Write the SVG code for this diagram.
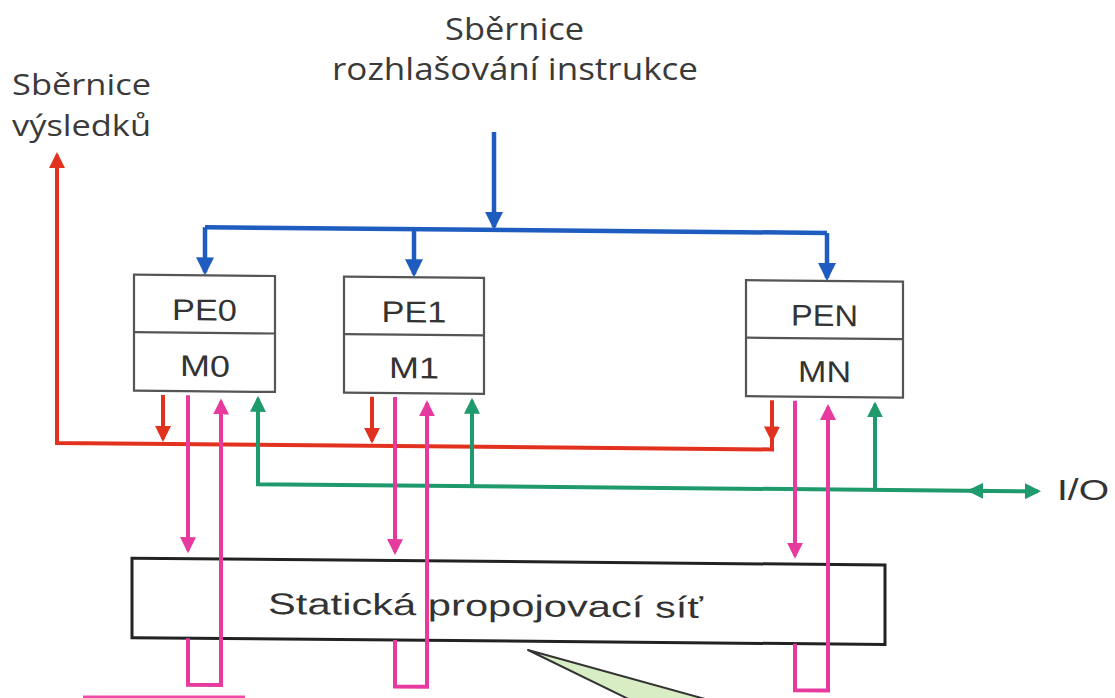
<svg xmlns="http://www.w3.org/2000/svg" width="1115" height="698" viewBox="0 0 1115 698">
<style>
.lbl{font-family:"Open Sans","Noto Sans",sans-serif;fill:#3a3a3a}
.bx{fill:#fff;stroke:#555;stroke-width:2.2}
.bt{font-family:"Liberation Sans",Arial,sans-serif;font-size:30px;fill:#333}
.net{fill:#fff;stroke:#222;stroke-width:3}
.c{fill:none;stroke-width:4}
.blue{stroke:#1e5cbf;stroke-width:4.5}
.red{stroke:#e2321f}
.green{stroke:#1f9a6c}
.pink{stroke:#e63a9f}
</style>
<defs>
<marker id="ab" viewBox="0 0 18 18" refX="15" refY="9" markerWidth="18" markerHeight="18" markerUnits="userSpaceOnUse" orient="auto-start-reverse"><path d="M0,0 L18,9 L0,18 z" fill="#1e5cbf"/></marker>
<marker id="ar" viewBox="0 0 16 16" refX="13" refY="8" markerWidth="16" markerHeight="16" markerUnits="userSpaceOnUse" orient="auto-start-reverse"><path d="M0,0 L16,8 L0,16 z" fill="#e2321f"/></marker>
<marker id="ag" viewBox="0 0 16 16" refX="13" refY="8" markerWidth="16" markerHeight="16" markerUnits="userSpaceOnUse" orient="auto-start-reverse"><path d="M0,0 L16,8 L0,16 z" fill="#1f9a6c"/></marker>
<marker id="ap" viewBox="0 0 16 16" refX="13" refY="8" markerWidth="16" markerHeight="16" markerUnits="userSpaceOnUse" orient="auto-start-reverse"><path d="M0,0 L16,8 L0,16 z" fill="#e63a9f"/></marker>
</defs>
<rect width="1115" height="698" fill="#fff"/>
<g id="labels">
<text class="lbl" x="445" y="40" font-size="31" textLength="139" lengthAdjust="spacingAndGlyphs">Sběrnice</text>
<text class="lbl" x="332" y="80" font-size="31" textLength="366" lengthAdjust="spacingAndGlyphs">rozhlašování instrukce</text>
<text class="lbl" x="12" y="95" font-size="30" textLength="139" lengthAdjust="spacingAndGlyphs">Sběrnice</text>
<text class="lbl" x="12" y="136" font-size="30" textLength="139" lengthAdjust="spacingAndGlyphs">výsledků</text>
<text x="1057" y="500" font-family="Liberation Sans, Arial, sans-serif" font-size="30" fill="#333" textLength="52" lengthAdjust="spacingAndGlyphs">I/O</text>
</g>
<g transform="matrix(1 0.009 0 1 0 -4.5)">
<g id="net">
<rect class="net" x="132" y="561.5" width="753" height="79.5"/>
<text class="bt" x="268" y="616" font-size="34" textLength="435" lengthAdjust="spacingAndGlyphs">Statická propojovací síť</text>
</g>
<g id="pe0">
<rect class="bx" x="134" y="278" width="141" height="116"/>
<line x1="134" y1="335.5" x2="275" y2="335.5" stroke="#555" stroke-width="2.2"/>
<text class="bt" x="172" y="323" textLength="65" lengthAdjust="spacingAndGlyphs">PE0</text>
<text class="bt" x="180" y="379" textLength="50" lengthAdjust="spacingAndGlyphs">M0</text>
</g>
<g id="pe1">
<rect class="bx" x="344" y="278" width="140" height="116"/>
<line x1="344" y1="335.5" x2="484" y2="335.5" stroke="#555" stroke-width="2.2"/>
<text class="bt" x="381.5" y="323" textLength="65" lengthAdjust="spacingAndGlyphs">PE1</text>
<text class="bt" x="389" y="379" textLength="50" lengthAdjust="spacingAndGlyphs">M1</text>
</g>
<g id="pen">
<rect class="bx" x="746" y="278" width="157" height="116"/>
<line x1="746" y1="335.5" x2="903" y2="335.5" stroke="#555" stroke-width="2.2"/>
<text class="bt" x="791" y="323" textLength="67" lengthAdjust="spacingAndGlyphs">PEN</text>
<text class="bt" x="798" y="379" textLength="53" lengthAdjust="spacingAndGlyphs">MN</text>
</g>
<g id="connectors">
<path class="c blue" d="M494,132 V227" marker-end="url(#ab)"/>
<path class="c blue" d="M205,230 H827"/>
<path class="c blue" d="M205,230 V275" marker-end="url(#ab)"/>
<path class="c blue" d="M414,230 V275" marker-end="url(#ab)"/>
<path class="c blue" d="M827,230 V275" marker-end="url(#ab)"/>
<path class="c red" d="M772,398 V447 H57 V159" marker-end="url(#ar)"/>
<path class="c red" d="M772,398 V437" marker-end="url(#ar)"/>
<path class="c red" d="M163,398 V442" marker-end="url(#ar)"/>
<path class="c red" d="M372,398 V442" marker-end="url(#ar)"/>
<path class="c green" d="M258,401 V486.5 H1038" marker-start="url(#ag)" marker-end="url(#ag)"/>
<path class="c green" d="M990,486.5 H970" marker-end="url(#ag)"/>
<path class="c green" d="M472,486.5 V401" marker-end="url(#ag)"/>
<path class="c green" d="M875,486.5 V401" marker-end="url(#ag)"/>
<path class="c pink" d="M188,398 V553" marker-end="url(#ap)"/>
<path class="c pink" d="M188,641 V687.5 H221 V404" marker-end="url(#ap)"/>
<path class="c pink" d="M395,398 V553" marker-end="url(#ap)"/>
<path class="c pink" d="M395,641 V687.5 H427 V404" marker-end="url(#ap)"/>
<path class="c pink" d="M795,398 V553" marker-end="url(#ap)"/>
<path class="c pink" d="M795,641 V687.5 H828 V404" marker-end="url(#ap)"/>
</g>
</g>
<g id="callout">
<polygon points="528,650 752,712 655,712" fill="#d8edc4" stroke="#333" stroke-width="2" stroke-linejoin="round"/>
<line x1="83" y1="697" x2="245" y2="697" stroke="#f04aa8" stroke-width="3"/>
</g>
</svg>
